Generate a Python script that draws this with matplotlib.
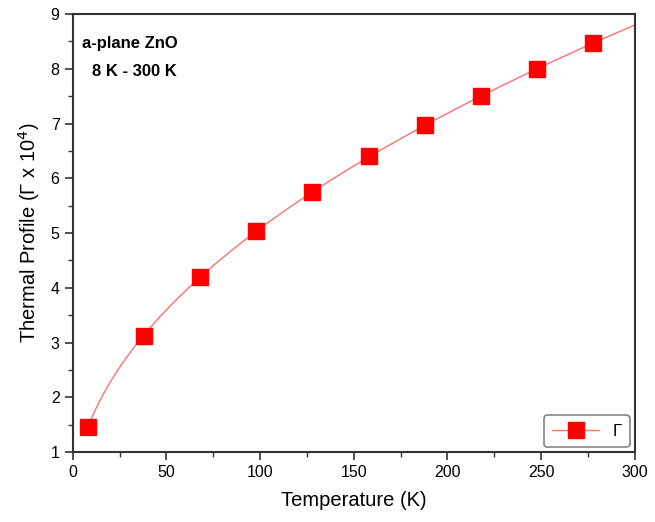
import numpy as np
import matplotlib.pyplot as plt
from matplotlib.ticker import MultipleLocator

plt.rcParams['font.family'] = ['Liberation Sans', 'DejaVu Sans']

# data
temperature = [8, 38, 68, 98, 128, 158, 188, 218, 248, 278]
gamma = [1.45, 3.12, 4.20, 5.03, 5.75, 6.40, 6.97, 7.50, 8.00, 8.47]

# fit curve: gamma = a*sqrt(T) + b
a, b = np.polyfit(np.sqrt(temperature), gamma, 1)
t_fit = np.linspace(temperature[0], 300, 300)
g_fit = a * np.sqrt(t_fit) + b

fig = plt.figure(figsize=(6.55, 5.22), dpi=100)
ax = fig.add_axes([0.111, 0.134, 0.858, 0.839])

ax.plot(t_fit, g_fit, color='#ff7070', lw=1.0, zorder=2)
ax.plot(temperature, gamma, 's', color='red', ms=11, zorder=3)
# legend proxy
ax.plot([], [], '-s', color='#ff7070', mfc='red', mec='red', ms=11, lw=1.0,
        label='Γ')

ax.set_xlim(0, 300)
ax.set_ylim(1, 9)
ax.xaxis.set_major_locator(MultipleLocator(50))
ax.xaxis.set_minor_locator(MultipleLocator(25))
ax.yaxis.set_major_locator(MultipleLocator(1))
ax.yaxis.set_minor_locator(MultipleLocator(0.5))
ax.tick_params(which='major', direction='out', length=6, width=1.2,
               labelsize=11.5, color='#333333')
ax.tick_params(which='minor', direction='out', length=3.5, width=1.0,
               color='#333333')
for s in ax.spines.values():
    s.set_linewidth(1.5)
    s.set_color('#333333')

ax.set_xlabel('Temperature (K)', fontsize=14.5, labelpad=8)
ax.set_ylabel('Thermal Profile (Γ x 10$^4$)', fontsize=14.5, labelpad=6)

ax.text(0.016, 0.95, 'a-plane ZnO', transform=ax.transAxes,
        fontsize=12, fontweight='bold', va='top')
ax.text(0.034, 0.885, '8 K - 300 K', transform=ax.transAxes,
        fontsize=12, fontweight='bold', va='top')

leg = ax.legend(loc='lower right', fontsize=12, handlelength=2.8,
                frameon=True, fancybox=True, borderpad=0.5,
                borderaxespad=0.3, bbox_to_anchor=(1.0, 0.0))
leg.get_frame().set_edgecolor('#666666')
leg.get_frame().set_linewidth(1.2)

fig.savefig('out.png', dpi=100)
